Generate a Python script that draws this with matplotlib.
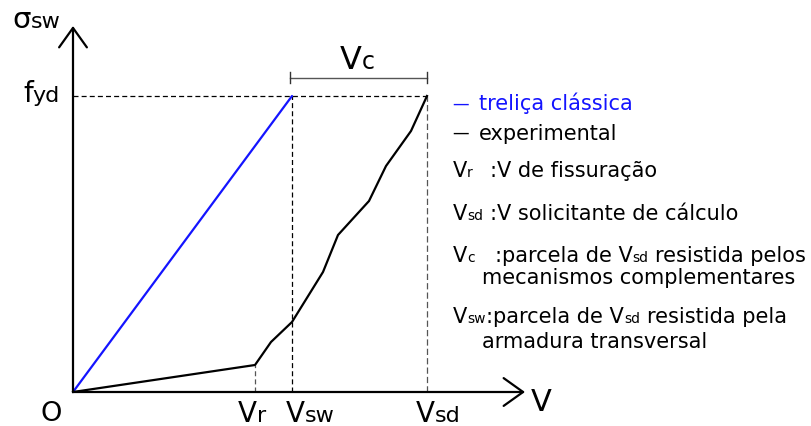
import matplotlib.pyplot as plt

# Schematic stirrup stress vs. shear force (arbitrary units, origin at O)
V_R = 182
V_SW = 219
V_SD = 354
F_YD = 296

# classical truss: straight line from O to (V_sw, f_yd)
truss_v = [0, V_SW]
truss_s = [0, F_YD]

# experimental curve
exp_v = [0, 182, 198, 219, 250, 265, 296, 313, 338, 354]
exp_s = [0, 27, 50, 70, 120, 157, 191, 226, 261, 296]

BLUE = '#1414ff'
DASH = (0, (4, 2.5))
FS = 15        # key text
FS_SUB = 10    # key subscripts
SPACE = 0.318  # DejaVu Sans space advance, in em

fig = plt.figure(figsize=(8.11, 4.27), dpi=100)
ax = fig.add_axes([0, 0, 1, 1])
ax.set_xlim(-73, 738)
ax.set_ylim(-34, 393)
ax.axis('off')
renderer = fig.canvas.get_renderer()


def chain(x, y, parts, color='black'):
    """Draw text pieces one after another on a common baseline.

    parts: list of (text, fontsize, gap_before_in_points)
    """
    off = 0.0
    for s, size, gap in parts:
        off += gap
        t = ax.annotate(s, xy=(x, y), xytext=(off, 0), textcoords='offset points',
                        fontsize=size, color=color, ha='left', va='baseline')
        off += t.get_window_extent(renderer).width * 72 / fig.dpi


def sp(size=FS):
    return SPACE * size


# axes arrows
arrow = dict(arrowstyle='->,head_width=0.5,head_length=0.7', lw=1.6,
             color='black', mutation_scale=20, shrinkA=0, shrinkB=0)
ax.annotate('', xy=(0, 366), xytext=(0, 0), arrowprops=arrow)
ax.annotate('', xy=(452, 0), xytext=(0, 0), arrowprops=arrow)

# guide lines
ax.plot([0, V_SD], [F_YD, F_YD], color='black', lw=0.9, ls=DASH)
ax.plot([V_SW, V_SW], [0, F_YD], color='black', lw=0.9, ls=DASH)
ax.plot([V_SD, V_SD], [0, F_YD], color='#555555', lw=0.9, ls=(0, (5, 2.5)))
ax.plot([V_R, V_R], [0, exp_s[1]], color='#555555', lw=0.9, ls=DASH)

# curves
ax.plot(truss_v, truss_s, color=BLUE, lw=1.6, solid_capstyle='round')
ax.plot(exp_v, exp_s, color='black', lw=1.6, solid_joinstyle='round')

# V_c dimension bracket
ax.plot([V_SW - 2, V_SD], [314, 314], color='#555555', lw=1.0)
for v in (V_SW - 2, V_SD):
    ax.plot([v, v], [309, 320], color='#333333', lw=1.0)
chain(267, 324, [('V', 23, 0), ('c', 17, 0)])

# axis labels
chain(-61, 365, [('σ', 21, 0), ('sw', 16, 0)])
chain(-50, 291, [('f', 20, 0), ('yd', 16, 0)])
ax.text(-11, -28, 'O', fontsize=19.5, ha='right', va='baseline')
chain(165, -29, [('V', 20, 0), ('r', 16, 0)])
chain(213, -29, [('V', 20, 0), ('sw', 16, 0)])
chain(343, -29, [('V', 20, 0), ('sd', 16, 0)])
ax.text(458, -18, 'V', fontsize=22, ha='left', va='baseline')

# key
ax.text(379, 284, '—', fontsize=12, color=BLUE, ha='left', va='baseline')
ax.text(406, 283, 'treliça clássica', fontsize=FS, color=BLUE, ha='left', va='baseline')
ax.text(379, 255, '—', fontsize=12, color='black', ha='left', va='baseline')
ax.text(406, 253, 'experimental', fontsize=FS, ha='left', va='baseline')

chain(380, 216, [('V', FS, 0), ('r', FS_SUB, 0)])
ax.text(417, 216, ':V de fissuração', fontsize=FS, ha='left', va='baseline')
chain(380, 173, [('V', FS, 0), ('sd', FS_SUB, 0)])
ax.text(417, 173, ':V solicitante de cálculo', fontsize=FS, ha='left', va='baseline')

chain(380, 131, [('V', FS, 0), ('c', FS_SUB, 0)])
chain(422, 131, [(':parcela de V', FS, 0), ('sd', FS_SUB, 0),
                 ('resistida pelos', FS, sp())])
ax.text(409, 109, 'mecanismos complementares', fontsize=FS, ha='left', va='baseline')

chain(380, 70, [('V', FS, 0), ('sw', FS_SUB, 0), (':parcela de V', FS, 0.5),
                ('sd', FS_SUB, 0), ('resistida pela', FS, sp())])
ax.text(409, 45, 'armadura transversal', fontsize=FS, ha='left', va='baseline')

fig.savefig('out.png', dpi=100)
